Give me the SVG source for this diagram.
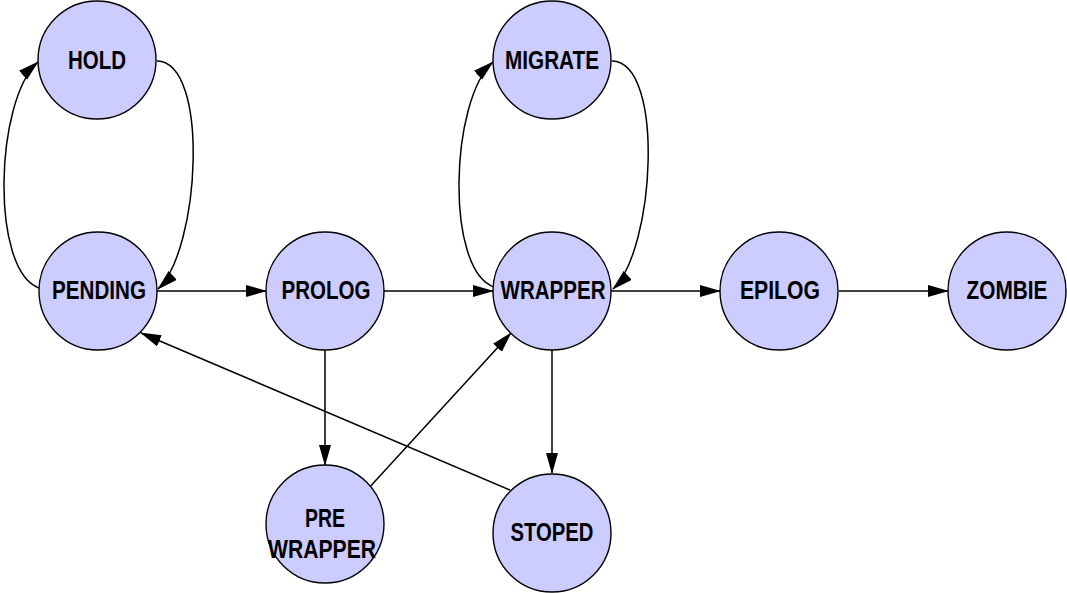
<svg xmlns="http://www.w3.org/2000/svg" width="1067" height="593" viewBox="0 0 1067 593">
<defs>
<style>
.n circle{fill:#CCCCFF;stroke:#000;stroke-width:1.4}
.n text{font-family:"Liberation Sans",Arial,sans-serif;font-weight:bold;font-size:25px;text-anchor:middle;fill:#000}
#edges path,#edges line{fill:none;stroke:#000;stroke-width:1.5;marker-end:url(#arr)}
</style>
<marker id="arr" markerUnits="userSpaceOnUse" markerWidth="22" markerHeight="14" refX="20" refY="6" orient="auto">
<path d="M0,0 L21,6 L0,12 z" fill="#000"/>
</marker>
</defs>
<rect width="1067" height="593" fill="#fff"/>
<g id="edges">
<path d="M39,288 C-10,270 -5,100 38,62"/>
<path d="M157,61 C210,62 200,250 158,289"/>
<path d="M494,287 C445,270 450,100 493,62"/>
<path d="M612,61 C665,62 655,250 613,289"/>
<line x1="157" y1="291" x2="266" y2="291"/>
<line x1="384" y1="291" x2="493" y2="291"/>
<line x1="611" y1="291" x2="720" y2="291"/>
<line x1="839" y1="291" x2="948" y2="291"/>
<line x1="325" y1="350" x2="325" y2="465"/>
<line x1="552" y1="350" x2="552" y2="473"/>
<line x1="367" y1="490" x2="511" y2="333"/>
<line x1="510" y1="490" x2="141" y2="333"/>
</g>
<g id="hold" class="n"><circle cx="97" cy="60" r="59"/><text x="97" y="69" textLength="58" lengthAdjust="spacingAndGlyphs">HOLD</text></g>
<g id="pending" class="n"><circle cx="98" cy="291" r="59"/><text x="99" y="299" textLength="94" lengthAdjust="spacingAndGlyphs">PENDING</text></g>
<g id="prolog" class="n"><circle cx="325" cy="291" r="59"/><text x="326" y="299" textLength="89" lengthAdjust="spacingAndGlyphs">PROLOG</text></g>
<g id="wrapper" class="n"><circle cx="552" cy="291" r="59"/><text x="553" y="299" textLength="105" lengthAdjust="spacingAndGlyphs">WRAPPER</text></g>
<g id="epilog" class="n"><circle cx="779" cy="291" r="59"/><text x="780" y="299" textLength="80" lengthAdjust="spacingAndGlyphs">EPILOG</text></g>
<g id="zombie" class="n"><circle cx="1007" cy="291" r="59"/><text x="1007" y="299" textLength="81" lengthAdjust="spacingAndGlyphs">ZOMBIE</text></g>
<g id="migrate" class="n"><circle cx="552" cy="60" r="59"/><text x="552" y="69" textLength="94" lengthAdjust="spacingAndGlyphs">MIGRATE</text></g>
<g id="prewrapper" class="n"><circle cx="325" cy="524" r="59"/><text x="325" y="527" textLength="40" lengthAdjust="spacingAndGlyphs">PRE</text><text x="322" y="558" textLength="108" lengthAdjust="spacingAndGlyphs">WRAPPER</text></g>
<g id="stoped" class="n"><circle cx="552" cy="533" r="59"/><text x="552" y="541" textLength="83" lengthAdjust="spacingAndGlyphs">STOPED</text></g>
</svg>
